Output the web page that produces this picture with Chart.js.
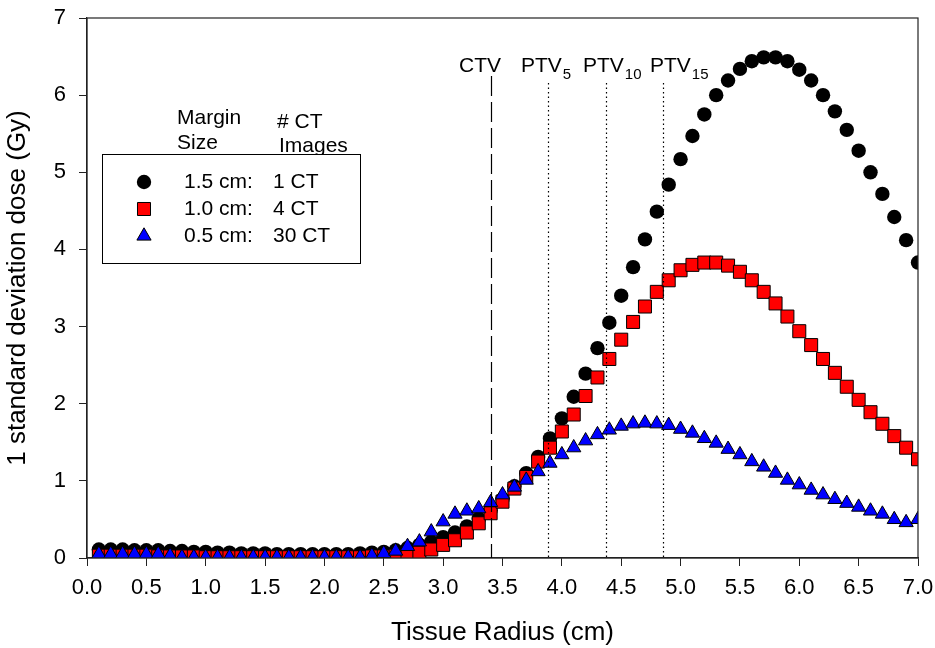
<!doctype html>
<html lang="en">
<head>
  <meta charset="UTF-8">
  <title>Dose standard deviation vs tissue radius</title>
  <script src="https://cdn.jsdelivr.net/npm/chart.js"></script>
  <style>
    html, body { margin: 0; padding: 0; background: #fff; }
    #doseChart { display: block; }
  </style>
</head>
<body>
<canvas id="doseChart" width="935" height="648"></canvas>
<script type="application/javascript">
  // Tissue radius (cm), sampled every 0.1 cm
  const radius = [
    0.1, 0.2, 0.3, 0.4, 0.5, 0.6, 0.7, 0.8, 0.9, 1.0,
    1.1, 1.2, 1.3, 1.4, 1.5, 1.6, 1.7, 1.8, 1.9, 2.0,
    2.1, 2.2, 2.3, 2.4, 2.5, 2.6, 2.7, 2.8, 2.9, 3.0,
    3.1, 3.2, 3.3, 3.4, 3.5, 3.6, 3.7, 3.8, 3.9, 4.0,
    4.1, 4.2, 4.3, 4.4, 4.5, 4.6, 4.7, 4.8, 4.9, 5.0,
    5.1, 5.2, 5.3, 5.4, 5.5, 5.6, 5.7, 5.8, 5.9, 6.0,
    6.1, 6.2, 6.3, 6.4, 6.5, 6.6, 6.7, 6.8, 6.9, 7.0
  ];

  // 1 SD dose (Gy), 1.5 cm margin, 1 CT
  const sd15 = [
    0.11, 0.11, 0.11, 0.10, 0.10, 0.10, 0.09, 0.09, 0.08, 0.08,
    0.07, 0.07, 0.06, 0.06, 0.06, 0.05, 0.05, 0.05, 0.05, 0.05,
    0.05, 0.05, 0.06, 0.07, 0.08, 0.10, 0.13, 0.17, 0.21, 0.27,
    0.33, 0.41, 0.51, 0.62, 0.76, 0.93, 1.10, 1.31, 1.55, 1.81,
    2.09, 2.39, 2.72, 3.05, 3.40, 3.77, 4.13, 4.49, 4.84, 5.17,
    5.47, 5.75, 6.00, 6.19, 6.34, 6.44, 6.49, 6.49, 6.44, 6.33,
    6.19, 6.00, 5.79, 5.55, 5.28, 5.00, 4.72, 4.42, 4.12, 3.83
  ];

  // 1.0 cm margin, 4 CT
  const sd10 = [
    0.03, 0.03, 0.03, 0.03, 0.03, 0.02, 0.02, 0.02, 0.02, 0.01,
    0.01, 0.01, 0.01, 0.01, 0.01, 0.01, 0.01, 0.01, 0.01, 0.01,
    0.01, 0.01, 0.01, 0.02, 0.02, 0.03, 0.05, 0.07, 0.11, 0.17,
    0.23, 0.33, 0.45, 0.58, 0.73, 0.90, 1.05, 1.25, 1.43, 1.64,
    1.86, 2.10, 2.34, 2.58, 2.83, 3.06, 3.26, 3.45, 3.60, 3.73,
    3.80, 3.83, 3.83, 3.79, 3.71, 3.60, 3.45, 3.30, 3.13, 2.94,
    2.76, 2.58, 2.40, 2.22, 2.05, 1.89, 1.74, 1.58, 1.43, 1.28
  ];

  // 0.5 cm margin, 30 CT
  const sd05 = [
    0.05, 0.05, 0.05, 0.05, 0.05, 0.05, 0.03, 0.01, 0.01, 0.01,
    0.01, 0.01, 0.01, 0.01, 0.01, 0.01, 0.01, 0.01, 0.01, 0.01,
    0.01, 0.01, 0.01, 0.03, 0.06, 0.09, 0.15, 0.21, 0.34, 0.47,
    0.57, 0.61, 0.64, 0.72, 0.82, 0.92, 1.01, 1.12, 1.23, 1.34,
    1.43, 1.52, 1.60, 1.66, 1.71, 1.74, 1.75, 1.74, 1.72, 1.67,
    1.62, 1.55, 1.49, 1.41, 1.34, 1.25, 1.18, 1.10, 1.01, 0.95,
    0.88, 0.82, 0.76, 0.71, 0.66, 0.61, 0.57, 0.50, 0.46, 0.50
  ];

  const seriesLabels = ['1.5 cm:', '1.0 cm:', '0.5 cm:'];
  const seriesImages = ['1 CT', '4 CT', '30 CT'];

  // target volume boundaries (cm)
  const volumeNames = ['CTV', 'PTV', 'PTV', 'PTV'];
  const volumeSubs = ['', '5', '10', '15'];
  const volumeRadius = [3.4, 3.88, 4.37, 4.85];

  const FONT = '"Liberation Sans", Arial, sans-serif';

  const toPoints = ys => radius.map((x, i) => ({x: x, y: ys[i]}));

  function drawMarker(ctx, style, r, x, y) {
    if (style === 'rect') {
      const s = Math.SQRT1_2 * r;
      ctx.rect(x - s, y - s, 2 * s, 2 * s);
    } else if (style === 'triangle') {
      ctx.moveTo(x, y - r);
      ctx.lineTo(x + Math.sin(2 * Math.PI / 3) * r, y + r / 2);
      ctx.lineTo(x - Math.sin(2 * Math.PI / 3) * r, y + r / 2);
      ctx.closePath();
    } else {
      ctx.arc(x, y, r, 0, Math.PI * 2);
    }
  }

  // frame, target volume lines and the legend box
  const decorPlugin = {
    id: 'decor',
    afterDraw(chart) {
      const {ctx, chartArea: a, scales} = chart;
      const xs = scales.x;
      ctx.save();

      ctx.strokeStyle = '#222';
      ctx.lineWidth = 1.2;
      ctx.strokeRect(a.left, a.top, a.right - a.left, a.bottom - a.top);

      // boundaries
      ctx.strokeStyle = '#000';
      volumeRadius.forEach((r, i) => {
        const px = Math.round(xs.getPixelForValue(r)) + 0.5;
        ctx.setLineDash(i === 0 ? [20, 6] : [1.5, 3]);
        ctx.beginPath();
        ctx.moveTo(px, i === 0 ? 76 : 83);
        ctx.lineTo(px, a.bottom);
        ctx.stroke();
      });
      ctx.setLineDash([]);

      ctx.fillStyle = '#000';
      ctx.textBaseline = 'alphabetic';
      ctx.textAlign = 'left';
      const textLeft = [459, 521, 583, 650];
      volumeNames.forEach((name, i) => {
        ctx.font = '21px ' + FONT;
        ctx.fillText(name, textLeft[i], 72);
        if (volumeSubs[i]) {
          const w = ctx.measureText(name).width;
          ctx.font = '15px ' + FONT;
          ctx.fillText(volumeSubs[i], textLeft[i] + w + 1, 79);
        }
      });

      // legend
      ctx.font = '21px ' + FONT;
      ctx.textBaseline = 'middle';
      ctx.fillText('Margin', 177, 118);
      ctx.fillText('Size', 177, 143);
      ctx.fillText('# CT', 277, 122);
      ctx.fillText('Images', 279, 146);

      ctx.fillStyle = '#fff';
      ctx.fillRect(102.5, 154.5, 258, 109);
      ctx.strokeStyle = '#000';
      ctx.lineWidth = 1;
      ctx.strokeRect(102.5, 154.5, 258, 109);

      const rows = [182, 209, 236];
      chart.data.datasets.forEach((ds, i) => {
        const y = rows[i];
        ctx.fillStyle = ds.backgroundColor;
        ctx.strokeStyle = ds.borderColor;
        ctx.lineWidth = ds.borderWidth;
        ctx.beginPath();
        drawMarker(ctx, ds.pointStyle, ds.pointRadius, 144, y);
        ctx.fill();
        if (ds.borderWidth) ctx.stroke();
        ctx.fillStyle = '#000';
        ctx.fillText(seriesLabels[i], 184, y);
        ctx.fillText(seriesImages[i], 273, y);
      });
      ctx.restore();
    }
  };

  const ctx = document.getElementById('doseChart').getContext('2d');
  new Chart(ctx, {
    type: 'scatter',
    data: {
      datasets: [
        {
          label: '1.5 cm: 1 CT',
          data: toPoints(sd15),
          pointStyle: 'circle',
          pointRadius: 7.2,
          backgroundColor: '#000',
          borderColor: '#000',
          borderWidth: 0,
          order: 3
        },
        {
          label: '1.0 cm: 4 CT',
          data: toPoints(sd10),
          pointStyle: 'rect',
          pointRadius: 9.2,
          backgroundColor: '#ff0000',
          borderColor: '#000',
          borderWidth: 1,
          order: 2
        },
        {
          label: '0.5 cm: 30 CT',
          data: toPoints(sd05),
          pointStyle: 'triangle',
          pointRadius: 8.2,
          backgroundColor: '#0000ff',
          borderColor: '#000',
          borderWidth: 1,
          order: 1
        }
      ]
    },
    options: {
      responsive: false,
      animation: false,
      events: [],
      layout: {padding: {left: 0, right: 17, top: 18, bottom: 0}},
      plugins: {
        legend: {display: false},
        tooltip: {enabled: false}
      },
      scales: {
        x: {
          type: 'linear',
          min: 0,
          max: 7,
          afterFit: s => {
            s.height = 90;
            s.paddingLeft = 0;
            s.paddingRight = 0;
          },
          grid: {display: true, drawOnChartArea: false, drawTicks: true, tickLength: 8, color: '#222'},
          border: {display: true, color: '#222', width: 1.2},
          ticks: {
            stepSize: 0.5,
            autoSkip: false,
            maxRotation: 0,
            padding: 9,
            color: '#000',
            font: {family: FONT, size: 22},
            callback: v => v.toFixed(1)
          },
          title: {
            display: true,
            text: 'Tissue Radius (cm)',
            color: '#000',
            font: {family: FONT, size: 26},
            padding: {top: 0, bottom: 0}
          }
        },
        y: {
          min: 0,
          max: 7,
          afterFit: s => {
            s.width = 87;
            s.paddingTop = 0;
            s.paddingBottom = 0;
          },
          grid: {display: true, drawOnChartArea: false, drawTicks: true, tickLength: 8, color: '#222'},
          border: {display: true, color: '#222', width: 1.2},
          ticks: {
            stepSize: 1,
            padding: 13,
            color: '#000',
            font: {family: FONT, size: 22}
          },
          title: {
            display: true,
            text: '1 standard deviation dose (Gy)',
            color: '#000',
            font: {family: FONT, size: 26},
            padding: {top: 2, bottom: 0}
          }
        }
      }
    },
    plugins: [decorPlugin]
  });
</script>
</body>
</html>
